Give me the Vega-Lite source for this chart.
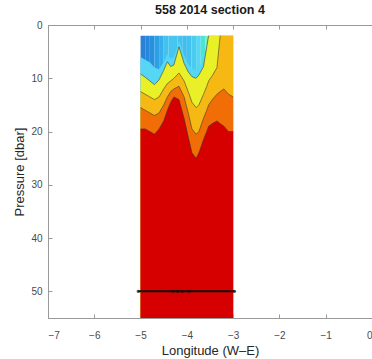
{
  "$schema": "https://vega.github.io/schema/vega-lite/v6.json",
  "width": 324,
  "height": 293,
  "autosize": "none",
  "padding": {"left": 48, "top": 25, "right": 0, "bottom": 41},
  "title": {"text": "558 2014 section 4", "font": "Liberation Sans", "fontSize": 12.5, "fontWeight": "bold", "color": "#1a1a1a", "offset": 4},
  "config": {
    "view": {"stroke": "#9a9a9a", "strokeWidth": 1},
    "axis": {
      "grid": false,
      "labelFont": "Liberation Sans",
      "labelFontSize": 10,
      "labelColor": "#4a4a4a",
      "titleFont": "Liberation Sans",
      "titleFontSize": 13,
      "titleFontWeight": "normal",
      "titleColor": "#262626",
      "domainColor": "#9a9a9a",
      "tickColor": "#9a9a9a",
      "tickSize": -4
    }
  },
  "datasets": {
    "cols": [
      {"x": -5.0, "x2": -4.9, "v": 0.0},
      {"x": -4.9, "x2": -4.8, "v": 0.02},
      {"x": -4.8, "x2": -4.7, "v": 0.05},
      {"x": -4.7, "x2": -4.6, "v": 0.09},
      {"x": -4.6, "x2": -4.5, "v": 0.13},
      {"x": -4.5, "x2": -4.4, "v": 0.2},
      {"x": -4.4, "x2": -4.3, "v": 0.22},
      {"x": -4.3, "x2": -4.2, "v": 0.22},
      {"x": -4.2, "x2": -4.1, "v": 0.2},
      {"x": -4.1, "x2": -4.0, "v": 0.18},
      {"x": -4.0, "x2": -3.9, "v": 0.2},
      {"x": -3.9, "x2": -3.8, "v": 0.25},
      {"x": -3.8, "x2": -3.7, "v": 0.3},
      {"x": -3.7, "x2": -3.6, "v": 0.36},
      {"x": -3.6, "x2": -3.5, "v": 0.42},
      {"x": -3.5, "x2": -3.4, "v": 0.52},
      {"x": -3.4, "x2": -3.3, "v": 0.56},
      {"x": -3.3, "x2": -3.2, "v": 0.7},
      {"x": -3.2, "x2": -3.1, "v": 0.72},
      {"x": -3.1, "x2": -3.0, "v": 0.72}
    ],
    "bands": [
      {"x": -5.0, "p0": 6.0, "p1": 9.2, "p2": 12.5, "p3": 15.5, "p4": 19.5},
      {"x": -4.9, "p0": 6.5, "p1": 9.8, "p2": 13.0, "p3": 16.0, "p4": 19.5},
      {"x": -4.8, "p0": 7.0, "p1": 10.5, "p2": 13.5, "p3": 16.5, "p4": 20.0},
      {"x": -4.7, "p0": 8.0, "p1": 11.2, "p2": 14.0, "p3": 17.0, "p4": 20.5},
      {"x": -4.6, "p0": 8.3, "p1": 10.3, "p2": 13.5, "p3": 16.5, "p4": 19.5},
      {"x": -4.5, "p0": 7.0, "p1": 8.5, "p2": 12.0, "p3": 15.0, "p4": 18.0},
      {"x": -4.42, "p0": 5.5, "p1": 6.9, "p2": 11.0, "p3": 13.5, "p4": 16.0},
      {"x": -4.35, "p0": 6.3, "p1": 7.8, "p2": 10.5, "p3": 12.5, "p4": 14.5},
      {"x": -4.28, "p0": 6.0, "p1": 7.5, "p2": 10.0, "p3": 12.0, "p4": 13.5},
      {"x": -4.17, "p0": 3.0, "p1": 4.1, "p2": 9.0, "p3": 11.5, "p4": 14.0},
      {"x": -4.06, "p0": 5.7, "p1": 7.2, "p2": 10.5, "p3": 13.5, "p4": 17.5},
      {"x": -3.97, "p0": 7.3, "p1": 8.8, "p2": 12.5, "p3": 16.5, "p4": 21.0},
      {"x": -3.89, "p0": 8.2, "p1": 9.7, "p2": 14.5, "p3": 19.5, "p4": 24.0},
      {"x": -3.8, "p0": 8.5, "p1": 10.0, "p2": 15.5, "p3": 20.5, "p4": 25.0},
      {"x": -3.74, "p0": 8.0, "p1": 9.4, "p2": 15.0, "p3": 20.0, "p4": 24.0},
      {"x": -3.64, "p0": 6.5, "p1": 7.8, "p2": 13.0, "p3": 17.5, "p4": 21.5},
      {"x": -3.57, "p0": 3.5, "p1": 4.1, "p2": 11.5, "p3": 16.0, "p4": 20.0},
      {"x": -3.53, "p0": 2.0, "p1": 2.0, "p2": 10.5, "p3": 15.0, "p4": 19.0},
      {"x": -3.45, "p0": 2.0, "p1": 2.0, "p2": 9.5, "p3": 14.0, "p4": 18.5},
      {"x": -3.35, "p0": 2.0, "p1": 2.0, "p2": 8.0, "p3": 13.0, "p4": 18.0},
      {"x": -3.28, "p0": 2.0, "p1": 2.0, "p2": 2.0, "p3": 12.5, "p4": 18.5},
      {"x": -3.2, "p0": 2.0, "p1": 2.0, "p2": 2.0, "p3": 12.0, "p4": 19.0},
      {"x": -3.1, "p0": 2.0, "p1": 2.0, "p2": 2.0, "p3": 13.0, "p4": 20.0},
      {"x": -3.0, "p0": 2.0, "p1": 2.0, "p2": 2.0, "p3": 13.5, "p4": 20.0}
    ],
    "contours": [
      {"c": "1", "x": -5.0, "p": 9.2}, {"c": "1", "x": -4.9, "p": 9.8}, {"c": "1", "x": -4.8, "p": 10.5}, {"c": "1", "x": -4.7, "p": 11.2},
      {"c": "1", "x": -4.6, "p": 10.3}, {"c": "1", "x": -4.5, "p": 8.5}, {"c": "1", "x": -4.42, "p": 6.9}, {"c": "1", "x": -4.35, "p": 7.8},
      {"c": "1", "x": -4.28, "p": 7.5}, {"c": "1", "x": -4.17, "p": 4.1}, {"c": "1", "x": -4.06, "p": 7.2}, {"c": "1", "x": -3.97, "p": 8.8},
      {"c": "1", "x": -3.89, "p": 9.7}, {"c": "1", "x": -3.8, "p": 10.0}, {"c": "1", "x": -3.74, "p": 9.4}, {"c": "1", "x": -3.64, "p": 7.8},
      {"c": "1", "x": -3.57, "p": 4.1}, {"c": "1", "x": -3.53, "p": 2.0},
      {"c": "2", "x": -5.0, "p": 12.5}, {"c": "2", "x": -4.9, "p": 13.0}, {"c": "2", "x": -4.8, "p": 13.5}, {"c": "2", "x": -4.7, "p": 14.0},
      {"c": "2", "x": -4.6, "p": 13.5}, {"c": "2", "x": -4.5, "p": 12.0}, {"c": "2", "x": -4.42, "p": 11.0}, {"c": "2", "x": -4.35, "p": 10.5},
      {"c": "2", "x": -4.28, "p": 10.0}, {"c": "2", "x": -4.17, "p": 9.0}, {"c": "2", "x": -4.06, "p": 10.5}, {"c": "2", "x": -3.97, "p": 12.5},
      {"c": "2", "x": -3.89, "p": 14.5}, {"c": "2", "x": -3.8, "p": 15.5}, {"c": "2", "x": -3.74, "p": 15.0}, {"c": "2", "x": -3.64, "p": 13.0},
      {"c": "2", "x": -3.57, "p": 11.5}, {"c": "2", "x": -3.53, "p": 10.5}, {"c": "2", "x": -3.45, "p": 9.5}, {"c": "2", "x": -3.35, "p": 8.0},
      {"c": "2", "x": -3.28, "p": 2.0},
      {"c": "3", "x": -5.0, "p": 15.5}, {"c": "3", "x": -4.9, "p": 16.0}, {"c": "3", "x": -4.8, "p": 16.5}, {"c": "3", "x": -4.7, "p": 17.0},
      {"c": "3", "x": -4.6, "p": 16.5}, {"c": "3", "x": -4.5, "p": 15.0}, {"c": "3", "x": -4.42, "p": 13.5}, {"c": "3", "x": -4.35, "p": 12.5},
      {"c": "3", "x": -4.28, "p": 12.0}, {"c": "3", "x": -4.17, "p": 11.5}, {"c": "3", "x": -4.06, "p": 13.5}, {"c": "3", "x": -3.97, "p": 16.5},
      {"c": "3", "x": -3.89, "p": 19.5}, {"c": "3", "x": -3.8, "p": 20.5}, {"c": "3", "x": -3.74, "p": 20.0}, {"c": "3", "x": -3.64, "p": 17.5},
      {"c": "3", "x": -3.57, "p": 16.0}, {"c": "3", "x": -3.53, "p": 15.0}, {"c": "3", "x": -3.45, "p": 14.0}, {"c": "3", "x": -3.35, "p": 13.0},
      {"c": "3", "x": -3.28, "p": 12.5}, {"c": "3", "x": -3.2, "p": 12.0}, {"c": "3", "x": -3.1, "p": 13.0}, {"c": "3", "x": -3.0, "p": 13.5},
      {"c": "4", "x": -5.0, "p": 19.5}, {"c": "4", "x": -4.9, "p": 19.5}, {"c": "4", "x": -4.8, "p": 20.0}, {"c": "4", "x": -4.7, "p": 20.5},
      {"c": "4", "x": -4.6, "p": 19.5}, {"c": "4", "x": -4.5, "p": 18.0}, {"c": "4", "x": -4.42, "p": 16.0}, {"c": "4", "x": -4.35, "p": 14.5},
      {"c": "4", "x": -4.28, "p": 13.5}, {"c": "4", "x": -4.17, "p": 14.0}, {"c": "4", "x": -4.06, "p": 17.5}, {"c": "4", "x": -3.97, "p": 21.0},
      {"c": "4", "x": -3.89, "p": 24.0}, {"c": "4", "x": -3.8, "p": 25.0}, {"c": "4", "x": -3.74, "p": 24.0}, {"c": "4", "x": -3.64, "p": 21.5},
      {"c": "4", "x": -3.57, "p": 20.0}, {"c": "4", "x": -3.53, "p": 19.0}, {"c": "4", "x": -3.45, "p": 18.5}, {"c": "4", "x": -3.35, "p": 18.0},
      {"c": "4", "x": -3.28, "p": 18.5}, {"c": "4", "x": -3.2, "p": 19.0}, {"c": "4", "x": -3.1, "p": 20.0}, {"c": "4", "x": -3.0, "p": 20.0}
    ],
    "stations": [
      {"x": -5.05, "p": 50}, {"x": -4.3, "p": 50}, {"x": -4.2, "p": 50}, {"x": -4.1, "p": 50}, {"x": -3.95, "p": 50}, {"x": -2.97, "p": 50}
    ]
  },
  "layer": [
    {
      "layer": [
        {
          "data": {"name": "cols"},
          "mark": {"type": "rect"},
          "encoding": {
            "x": {"field": "x", "type": "quantitative", "scale": {"domain": [-7, 0], "nice": false}, "axis": {"values": [-7, -6, -5, -4, -3, -2, -1, 0], "title": "Longitude (W–E)", "labelPadding": 16, "titlePadding": 4}},
            "x2": {"field": "x2"},
            "y": {"datum": 2, "type": "quantitative", "scale": {"domain": [0, 55], "nice": false, "reverse": true}, "axis": {"values": [0, 10, 20, 30, 40, 50], "title": "Pressure [dbar]", "labelPadding": 10, "titlePadding": 4}},
            "y2": {"datum": 55},
            "color": {"field": "v", "type": "quantitative", "legend": null, "scale": {"domain": [0, 0.15, 0.3, 0.45, 0.6, 0.75, 0.9, 1], "range": ["#2a7fd6", "#3fb6ec", "#55d6f2", "#9cec96", "#eaf028", "#f6b414", "#ee5a10", "#d70000"]}}
          }
        },
        {
          "data": {"name": "bands"},
          "mark": {"type": "area", "interpolate": "linear"},
          "encoding": {"x": {"field": "x", "type": "quantitative"}, "y": {"field": "p0", "type": "quantitative"}, "y2": {"datum": 55}, "color": {"datum": 0.3, "type": "quantitative"}}
        },
        {
          "data": {"name": "bands"},
          "mark": {"type": "area", "interpolate": "linear"},
          "encoding": {"x": {"field": "x", "type": "quantitative"}, "y": {"field": "p1", "type": "quantitative"}, "y2": {"datum": 55}, "color": {"datum": 0.6, "type": "quantitative"}}
        },
        {
          "data": {"name": "bands"},
          "mark": {"type": "area", "interpolate": "linear"},
          "encoding": {"x": {"field": "x", "type": "quantitative"}, "y": {"field": "p2", "type": "quantitative"}, "y2": {"datum": 55}, "color": {"datum": 0.74, "type": "quantitative"}}
        },
        {
          "data": {"name": "bands"},
          "mark": {"type": "area", "interpolate": "linear"},
          "encoding": {"x": {"field": "x", "type": "quantitative"}, "y": {"field": "p3", "type": "quantitative"}, "y2": {"datum": 55}, "color": {"datum": 0.87, "type": "quantitative"}}
        },
        {
          "data": {"name": "bands"},
          "mark": {"type": "area", "interpolate": "linear"},
          "encoding": {"x": {"field": "x", "type": "quantitative"}, "y": {"field": "p4", "type": "quantitative"}, "y2": {"datum": 55}, "color": {"datum": 1, "type": "quantitative"}}
        },
        {
          "data": {"name": "contours"},
          "mark": {"type": "line", "color": "#333333", "strokeWidth": 0.8, "opacity": 0.7},
          "encoding": {"x": {"field": "x", "type": "quantitative"}, "y": {"field": "p", "type": "quantitative"}, "detail": {"field": "c"}}
        },
        {
          "data": {"name": "stations"},
          "mark": {"type": "line", "color": "#111111", "strokeWidth": 2},
          "encoding": {"x": {"field": "x", "type": "quantitative"}, "y": {"field": "p", "type": "quantitative"}}
        },
        {
          "data": {"name": "stations"},
          "mark": {"type": "point", "filled": true, "color": "#111111", "size": 12},
          "encoding": {"x": {"field": "x", "type": "quantitative"}, "y": {"field": "p", "type": "quantitative"}}
        }
      ]
    },
    {
      "data": {"name": "stations"},
      "mark": {"type": "point", "opacity": 0},
      "encoding": {
        "x": {"field": "x", "type": "quantitative", "scale": {"domain": [-7, 0], "nice": false}, "axis": {"orient": "top", "values": [-7, -6, -5, -4, -3, -2, -1, 0], "labels": false, "title": null, "domain": false}},
        "y": {"field": "p", "type": "quantitative"}
      }
    }
  ],
  "resolve": {"scale": {"x": "independent"}, "axis": {"x": "independent"}}
}
